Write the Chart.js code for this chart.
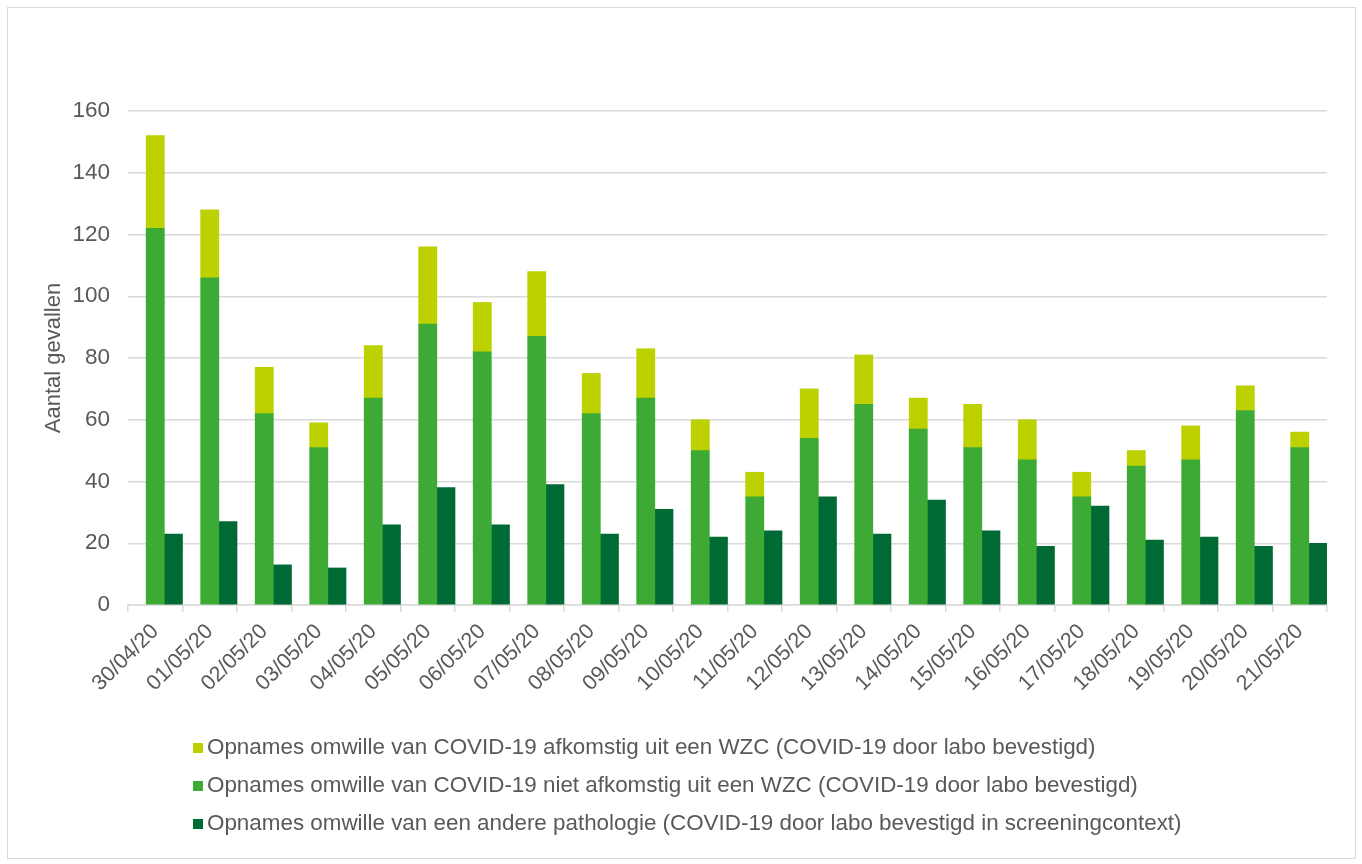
<!DOCTYPE html>
<html>
<head>
<meta charset="utf-8">
<script src="https://cdn.jsdelivr.net/npm/chart.js@4.4.1/dist/chart.umd.min.js"></script>
<style>
  body { margin: 0; background: #fff; font-family: 'Liberation Sans', Arial, sans-serif; }
  #frame { position: absolute; left: 7px; top: 7px; width: 1347px; height: 850px; border: 1px solid #d9d9d9; }
  #wrap { position: absolute; left: 0; top: 0; width: 1362px; height: 864px; }
  #legend { position: absolute; left: 193px; top: 733px; color: #595959; font-size: 22.4px; }
  .item { height: 38px; line-height: 28px; white-space: nowrap; }
  .box { display: inline-block; width: 10px; height: 10px; margin-right: 4px; vertical-align: 1px; }
</style>
</head>
<body>
<div id="frame"></div>
<div id="wrap"><canvas id="chart"></canvas></div>
<div id="legend"></div>
<script>
// Données
const dates = ['30/04/20', '01/05/20', '02/05/20', '03/05/20', '04/05/20', '05/05/20', '06/05/20', '07/05/20',
    '08/05/20', '09/05/20', '10/05/20', '11/05/20', '12/05/20', '13/05/20', '14/05/20', '15/05/20',
    '16/05/20', '17/05/20', '18/05/20', '19/05/20', '20/05/20', '21/05/20'];
const uitWzc = [30, 22, 15, 8, 17, 25, 16, 21, 13, 16, 10, 8, 16, 16, 10, 14, 13, 8, 5, 11, 8, 5];
const nietUitWzc = [122, 106, 62, 51, 67, 91, 82, 87, 62, 67, 50, 35, 54, 65, 57, 51, 47, 35, 45, 47, 63, 51];
const anderePathologie = [23, 27, 13, 12, 26, 38, 26, 39, 23, 31, 22, 24, 35, 23, 34, 24, 19, 32, 21, 22, 19, 20];
const yTicks = [0, 20, 40, 60, 80, 100, 120, 140, 160];

const labelUit = 'Opnames omwille van COVID-19 afkomstig uit een WZC (COVID-19 door labo bevestigd)';
const labelNiet = 'Opnames omwille van COVID-19 niet afkomstig uit een WZC (COVID-19 door labo bevestigd)';
const labelAndere = 'Opnames omwille van een andere pathologie (COVID-19 door labo bevestigd in screeningcontext)';

const kleurUit = '#bdd000';
const kleurNiet = '#3caa35';
const kleurAndere = '#006a35';
const tekst = '#595959';
const raster = '#d9d9d9';

Chart.defaults.font.family = "'Liberation Sans', Arial, sans-serif";
Chart.defaults.color = tekst;

const canvas = document.getElementById('chart');
canvas.width = 1362;
canvas.height = 864;

new Chart(canvas, {
    type: 'bar',
    data: {
        labels: dates,
        datasets: [
            // lege reeks: houdt het eerste derde van elke categorie vrij (zoals in Excel)
            { label: '', data: [], stack: 'leeg', backgroundColor: 'rgba(0,0,0,0)' },
            { label: labelNiet, data: nietUitWzc, stack: 'covid', backgroundColor: kleurNiet },
            { label: labelUit, data: uitWzc, stack: 'covid', backgroundColor: kleurUit },
            { label: labelAndere, data: anderePathologie, stack: 'andere', backgroundColor: kleurAndere }
        ]
    },
    options: {
        responsive: false,
        animation: false,
        events: [],
        datasets: { bar: { categoryPercentage: 1, barPercentage: 1, borderWidth: 0 } },
        layout: { padding: { left: 0, top: 111, right: 35, bottom: 0 } },
        plugins: { legend: { display: false }, tooltip: { enabled: false } },
        scales: {
            x: {
                stacked: true,
                afterFit: s => { s.height = 864 - 605; },
                grid: { drawOnChartArea: false, drawTicks: true, tickLength: 7, color: raster, lineWidth: 1.5 },
                border: { color: raster, width: 1.5 },
                ticks: { minRotation: 45, maxRotation: 45, autoSkip: false, font: { size: 21.5 }, color: tekst, padding: 7 }
            },
            y: {
                stacked: true,
                min: 0,
                max: 160,
                afterFit: s => { s.width = 128; },
                afterBuildTicks: s => { s.ticks = yTicks.map(v => ({ value: v })); },
                grid: { drawTicks: false, color: raster, lineWidth: 1.5 },
                border: { display: false },
                ticks: { font: { size: 22.5 }, color: tekst, padding: 18 },
                title: { display: true, text: 'Aantal gevallen', font: { size: 22 }, color: tekst, padding: { top: 41, bottom: 0 } }
            }
        }
    }
});

// Legende onder de grafiek, één reeks per regel
const legend = document.getElementById('legend');
[[labelUit, kleurUit], [labelNiet, kleurNiet], [labelAndere, kleurAndere]].forEach(([tekstLabel, kleur]) => {
    legend.innerHTML += `<div class="item"><span class="box" style="background:${kleur}"></span>${tekstLabel}</div>`;
});
</script>
</body>
</html>
